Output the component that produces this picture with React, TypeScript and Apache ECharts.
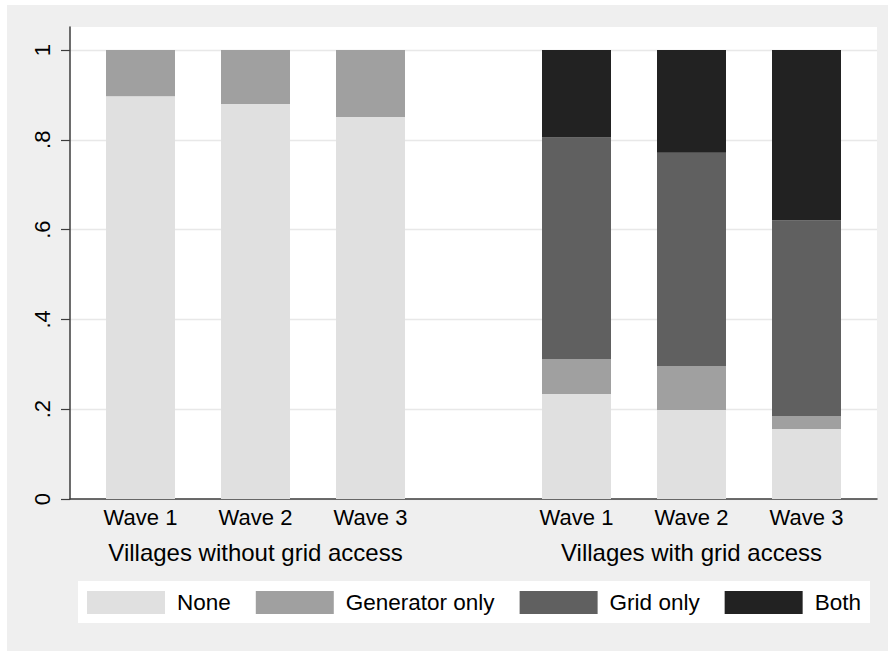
import React, { useEffect, useRef } from "react";
import * as echarts from "echarts";

const waves = ["Wave 1", "Wave 2", "Wave 3"];
const groupTitles = ["Villages without grid access", "Villages with grid access"];
const seriesNames = ["None", "Generator only", "Grid only", "Both"];
const seriesColors = ["#e0e0e0", "#a0a0a0", "#606060", "#222222"];

// Villages without grid access
const noneNoGrid = [0.897, 0.88, 0.851];
const genNoGrid = [0.103, 0.12, 0.149];
const gridNoGrid = [0, 0, 0];
const bothNoGrid = [0, 0, 0];

// Villages with grid access
const noneGrid = [0.234, 0.198, 0.156];
const genGrid = [0.078, 0.098, 0.029];
const gridGrid = [0.493, 0.475, 0.436];
const bothGrid = [0.195, 0.229, 0.379];

const yTickLabels = ["0", ".2", ".4", ".6", ".8", "1"];

const FONT = "'Liberation Sans', Arial, Helvetica, sans-serif";
const OX = 7;
const OY = 5;
const W = 881;
const H = 646;

export default function App() {
  const ref = useRef<HTMLDivElement>(null);

  useEffect(() => {
    if (!ref.current) return;
    const chart = echarts.init(ref.current, undefined, { renderer: "svg" });

    const leftData = [noneNoGrid, genNoGrid, gridNoGrid, bothNoGrid];
    const rightData = [noneGrid, genGrid, gridGrid, bothGrid];

    const series: any[] = [];
    leftData.forEach((d, i) => {
      series.push({
        name: seriesNames[i],
        type: "bar",
        xAxisIndex: 2,
        yAxisIndex: 2,
        stack: "left",
        data: d,
        barCategoryGap: "40%",
        itemStyle: { color: seriesColors[i] },
      });
    });
    rightData.forEach((d, i) => {
      series.push({
        name: seriesNames[i],
        type: "bar",
        xAxisIndex: 3,
        yAxisIndex: 3,
        stack: "right",
        data: d,
        barCategoryGap: "40%",
        itemStyle: { color: seriesColors[i] },
      });
    });

    const catAxis = (gridIndex: number, title: string) => ({
      type: "category",
      gridIndex,
      data: waves,
      axisLine: { show: false },
      axisTick: { show: false },
      axisLabel: {
        fontFamily: FONT,
        fontSize: 22,
        lineHeight: 22,
        color: "#000",
        margin: 7,
      },
      name: title,
      nameLocation: "middle",
      nameGap: 41,
      nameTextStyle: {
        fontFamily: FONT,
        fontSize: 24,
        lineHeight: 24,
        color: "#000",
      },
    });

    const hiddenY = (gridIndex: number) => ({
      type: "value",
      gridIndex,
      min: 0,
      max: 1,
      show: false,
    });

    chart.setOption({
      animation: false,
      backgroundColor: "#efefef",
      graphic: [
        {
          type: "rect",
          shape: { x: 78 - OX, y: 581 - OY, width: 792, height: 42 },
          style: { fill: "#ffffff" },
          silent: true,
        },
      ],
      legend: {
        left: 87 - OX,
        top: 591 - OY,
        padding: 0,
        itemWidth: 78,
        itemHeight: 23,
        itemGap: 25,
        icon: "rect",
        data: seriesNames,
        selectedMode: false,
        textStyle: {
          fontFamily: FONT,
          fontSize: 22.5,
          lineHeight: 23,
          color: "#000",
          padding: [0, 0, 0, 7],
        },
      },
      grid: [
        {
          left: 70 - OX,
          top: 27 - OY,
          width: 807,
          height: 472,
          show: true,
          backgroundColor: "#ffffff",
          borderWidth: 0,
        },
        { left: 70 - OX, top: 50 - OY, width: 807, height: 449 },
        { left: 83 - OX, top: 50 - OY, width: 345, height: 449 },
        { left: 519 - OX, top: 50 - OY, width: 345, height: 449 },
      ],
      xAxis: [
        {
          type: "value",
          gridIndex: 0,
          min: 0,
          max: 1,
          axisLine: { show: true, lineStyle: { color: "#3c3c3c", width: 1.5 } },
          axisTick: { show: false },
          axisLabel: { show: false },
          splitLine: { show: false },
        },
        { type: "value", gridIndex: 1, min: 0, max: 1, show: false },
        catAxis(2, groupTitles[0]),
        catAxis(3, groupTitles[1]),
      ],
      yAxis: [
        {
          type: "value",
          gridIndex: 0,
          min: 0,
          max: 1,
          axisLine: { show: true, lineStyle: { color: "#3c3c3c", width: 1.5 } },
          axisTick: { show: false },
          axisLabel: { show: false },
          splitLine: { show: false },
        },
        {
          type: "value",
          gridIndex: 1,
          min: 0,
          max: 1,
          interval: 0.2,
          axisLine: { show: false },
          axisTick: {
            show: true,
            length: 9,
            lineStyle: { color: "#3c3c3c", width: 1.2 },
          },
          axisLabel: {
            rotate: 90,
            margin: 17,
            fontFamily: FONT,
            fontSize: 22,
            lineHeight: 22,
            color: "#000",
            formatter: (v: number) => yTickLabels[Math.round(v / 0.2)] ?? "",
          },
          splitLine: { show: true, lineStyle: { color: "#e8e8e8", width: 1.3 } },
        },
        hiddenY(2),
        hiddenY(3),
      ],
      series,
    });

    return () => chart.dispose();
  }, []);

  return (
    <div
      ref={ref}
      style={{
        position: "fixed",
        left: OX,
        top: OY,
        width: W,
        height: H,
      }}
    />
  );
}
